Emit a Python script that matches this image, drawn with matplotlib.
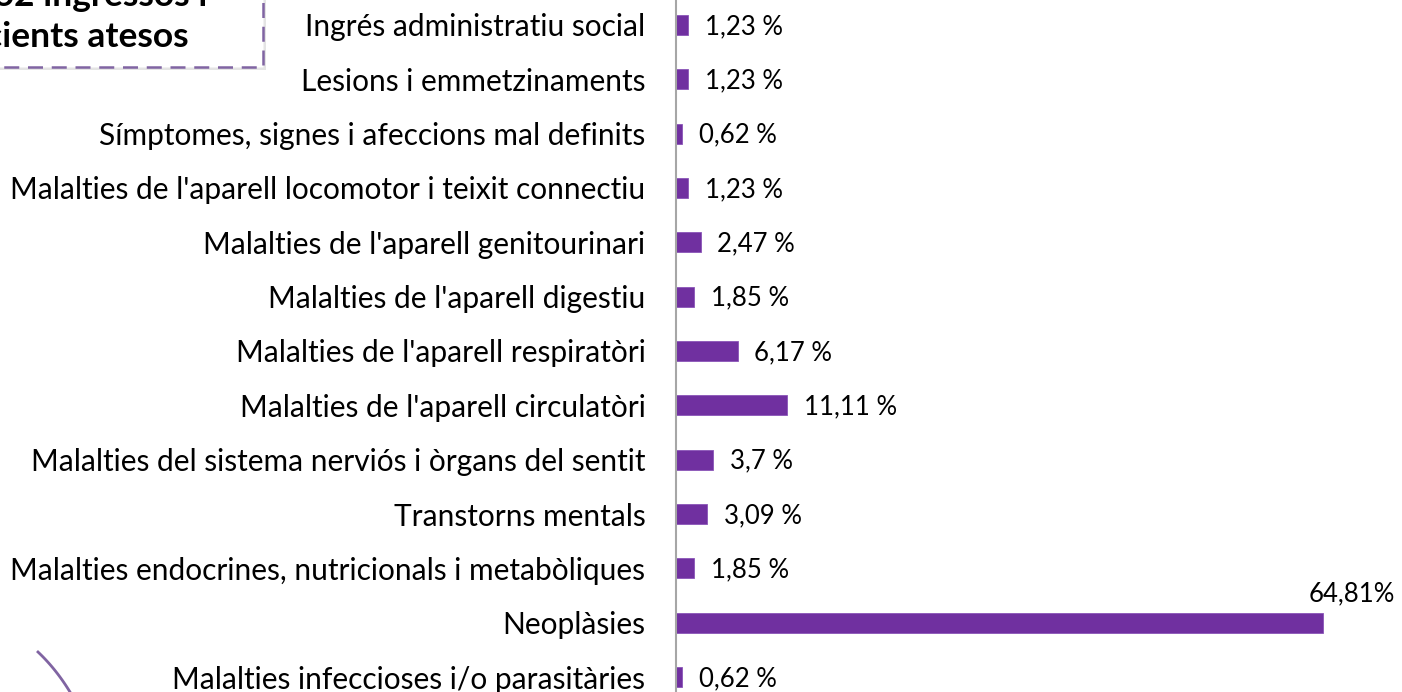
import numpy as np
import matplotlib.pyplot as plt
from matplotlib.patches import Rectangle
from matplotlib.lines import Line2D

# data, bottom to top
categories = [
    "Malalties infeccioses i/o parasitàries",
    "Neoplàsies",
    "Malalties endocrines, nutricionals i metabòliques",
    "Transtorns mentals",
    "Malalties del sistema nerviós i òrgans del sentit",
    "Malalties de l'aparell circulatòri",
    "Malalties de l'aparell respiratòri",
    "Malalties de l'aparell digestiu",
    "Malalties de l'aparell genitourinari",
    "Malalties de l'aparell locomotor i teixit connectiu",
    "Símptomes, signes i afeccions mal definits",
    "Lesions i emmetzinaments",
    "Ingrés administratiu social",
]
values = [0.62, 64.81, 1.85, 3.09, 3.7, 11.11, 6.17, 1.85, 2.47, 1.23, 0.62, 1.23, 1.23]
value_labels = ["0,62 %", "64,81%", "1,85 %", "3,09 %", "3,7 %", "11,11 %", "6,17 %",
                "1,85 %", "2,47 %", "1,23 %", "0,62 %", "1,23 %", "1,23 %"]
box_lines = ["162 ingressos i", "pacients atesos"]

bar_color = "#7030A0"
frame_purple = "#8064A2"

plt.rcParams['font.family'] = ['Lato', 'DejaVu Sans']

W, H = 1402, 692
fig = plt.figure(figsize=(W / 100, H / 100), dpi=100)
ax = fig.add_axes([676 / W, 0, 1 - 676 / W, 1])

pos = list(range(len(categories)))
ax.barh(pos, values, height=0.37, color=bar_color, edgecolor="#8a55b8", linewidth=0.6)

ax.set_xlim(0, 72.7)
ax.set_ylim(-0.276, 12.46)
ax.set_yticks(pos)
ax.set_yticklabels(categories, fontsize=21.5)
ax.tick_params(axis='y', length=0, pad=22)
ax.set_xticks([])
for s in ["top", "right", "bottom"]:
    ax.spines[s].set_visible(False)
ax.spines["left"].set_color("#A6A6A6")
ax.spines["left"].set_linewidth(1.5)

# value labels
for p, v, lab in zip(pos, values, value_labels):
    if lab.endswith("%") and not lab.endswith(" %"):
        ax.annotate(lab, (v, p), xytext=(52, 21), textcoords="offset points",
                    ha="right", va="center", fontsize=18.5)
    else:
        ax.annotate(lab, (v, p), xytext=(12, -1), textcoords="offset points",
                    ha="left", va="center", fontsize=18.5)

# text box in the top-left corner (cut by the figure edge)
px = fig.transFigure.inverted()
def fp(x, y):
    return px.transform(fig.dpi_scale_trans.transform((x / 100, (H - y) / 100)))

x0, y0 = fp(-20, 70)
x1, y1 = fp(266, -20)
shadow = Rectangle((x0, y0), x1 - x0, y1 - y0, transform=fig.transFigure,
                   facecolor="#d9d9d9", edgecolor="none", alpha=0.7, zorder=1)
fig.patches.append(shadow)
x0, y0 = fp(-20, 67)
x1, y1 = fp(263, -20)
box = Rectangle((x0, y0), x1 - x0, y1 - y0, transform=fig.transFigure,
                facecolor="white", edgecolor=frame_purple, linewidth=1.8,
                linestyle=(0, (6, 3.5)), zorder=2)
fig.patches.append(box)

tx, ty = fp(207, 6)
fig.text(tx, ty, box_lines[0], ha="right", va="baseline", fontsize=25.5,
         fontweight="bold", zorder=3)
tx, ty = fp(189, 47)
fig.text(tx, ty, box_lines[1], ha="right", va="baseline", fontsize=25.5,
         fontweight="bold", zorder=3)

# decorative curve in the bottom-left corner
t = np.linspace(0, 1, 20)
bx = (1 - t) ** 2 * 38 + 2 * (1 - t) * t * 56 + t ** 2 * 70
by = (1 - t) ** 2 * 652 + 2 * (1 - t) * t * 669 + t ** 2 * 692
pts = [fp(a, b) for a, b in zip(bx, by)]
fig.lines.append(Line2D([q[0] for q in pts], [q[1] for q in pts],
                        transform=fig.transFigure, color=frame_purple, linewidth=2))

fig.savefig("out.png", dpi=100)
